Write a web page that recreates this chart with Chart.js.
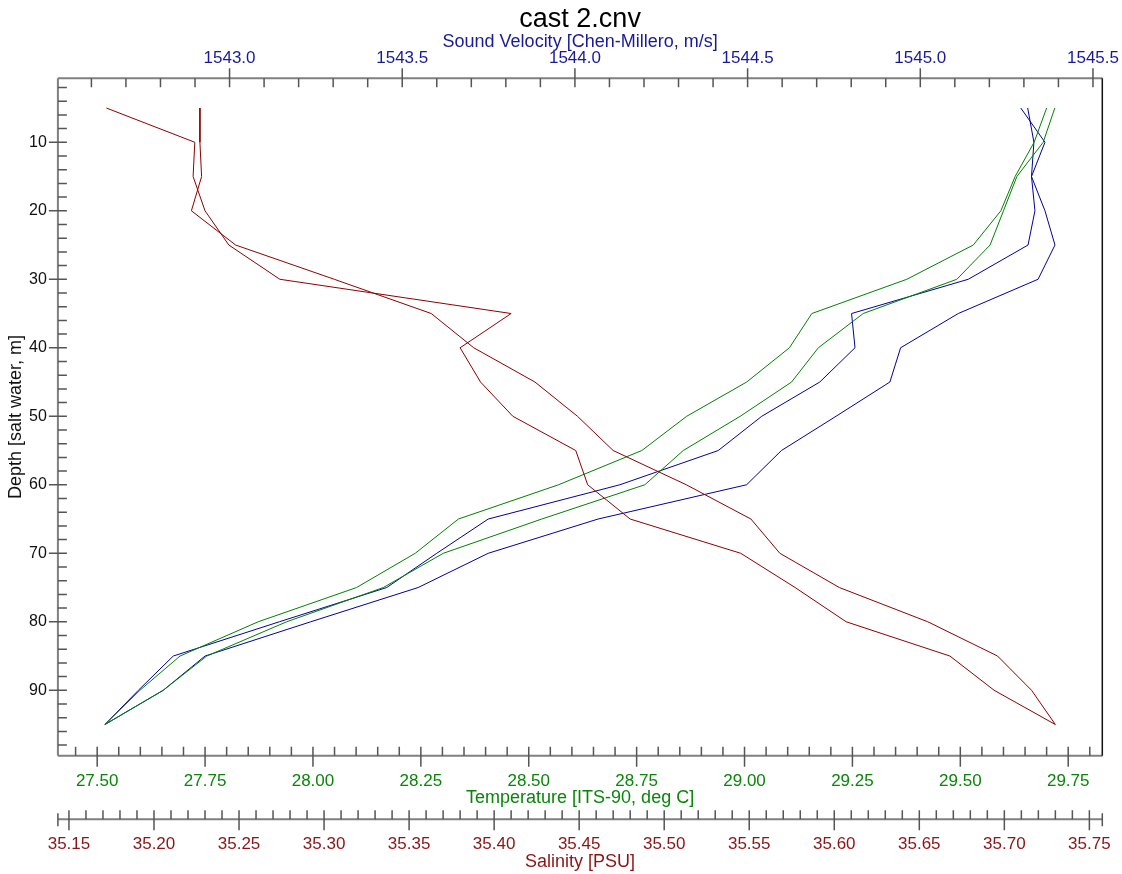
<!DOCTYPE html>
<html>
<head>
<meta charset="utf-8">
<title>cast 2.cnv</title>
<script src="https://cdn.jsdelivr.net/npm/chart.js@4.4.1/dist/chart.umd.min.js"></script>
<style>
  html, body { margin: 0; padding: 0; background: #fff; }
  canvas { display: block; }
</style>
</head>
<body>
<canvas id="chartCast" width="1122" height="874"></canvas>
<script>
// depth bins (m) and the two profiles of each variable
const depths = [5, 10, 15, 20, 25, 30, 35, 40, 45, 50, 55, 60, 65, 70, 75, 80, 85, 90, 95];

const salinityA = [35.172, 35.224, 35.223, 35.230, 35.244, 35.274, 35.410, 35.380, 35.392, 35.411,
                   35.448, 35.455, 35.480, 35.545, 35.577, 35.607, 35.668, 35.694, 35.730];
const salinityB = [35.227, 35.227, 35.228, 35.222, 35.248, 35.306, 35.363, 35.388, 35.424, 35.449,
                   35.470, 35.513, 35.551, 35.568, 35.603, 35.655, 35.696, 35.716, 35.730];

const temperatureA = [29.700, 29.671, 29.627, 29.594, 29.530, 29.376, 29.156, 29.104, 29.005, 28.866,
                      28.762, 28.569, 28.337, 28.237, 28.101, 27.873, 27.692, 27.599, 27.518];
const temperatureB = [29.719, 29.692, 29.631, 29.600, 29.569, 29.492, 29.275, 29.171, 29.109, 28.990,
                      28.858, 28.769, 28.530, 28.302, 28.163, 27.939, 27.754, 27.653, 27.518];

const soundVelA = [1545.311, 1545.329, 1545.322, 1545.332, 1545.312, 1545.139, 1544.801, 1544.811, 1544.709, 1544.541,
                   1544.415, 1544.130, 1543.749, 1543.600, 1543.455, 1543.144, 1542.837, 1542.736, 1542.639];
const soundVelB = [1545.291, 1545.361, 1545.322, 1545.361, 1545.390, 1545.341, 1545.110, 1544.943, 1544.912, 1544.756,
                   1544.598, 1544.497, 1544.067, 1543.749, 1543.546, 1543.235, 1542.929, 1542.808, 1542.639];

// tick labels
const svTicks = [1543.0, 1543.5, 1544.0, 1544.5, 1545.0, 1545.5];
const tempTicks = [27.50, 27.75, 28.00, 28.25, 28.50, 28.75, 29.00, 29.25, 29.50, 29.75];
const salTicks = [35.15, 35.20, 35.25, 35.30, 35.35, 35.40, 35.45, 35.50, 35.55, 35.60, 35.65, 35.70, 35.75];
const depthTicks = [10, 20, 30, 40, 50, 60, 70, 80, 90];

const FONT = 'Arial, "Liberation Sans", sans-serif';
const svColor = '#1a1a99';
const tempColor = '#0a850a';
const salColor = '#8b1414';

const profile = (vals) => vals.map((v, i) => ({ x: v, y: depths[i] }));

function lineSet(vals, axis, color) {
  return {
    data: profile(vals),
    xAxisID: axis,
    yAxisID: 'depth',
    showLine: true,
    borderColor: color,
    borderWidth: 1,
    pointRadius: 0,
    fill: false
  };
}

// minor + major tick marks, drawn on the library's scales
const axisDecor = {
  id: 'axisDecor',
  afterDraw(chart) {
    const { ctx, chartArea: a, scales } = chart;
    ctx.save();

    const tickMarks = (scale, step, horiz, pos, inLen, outLen, sign) => {
      const n0 = Math.ceil(scale.min / step - 1e-6);
      const n1 = Math.floor(scale.max / step + 1e-6);
      ctx.strokeStyle = '#555';
      ctx.lineWidth = 1.5;
      ctx.beginPath();
      for (let n = n0; n <= n1; n++) {
        const p = scale.getPixelForValue(n * step);
        const major = n % 5 === 0;
        const s = pos + sign * inLen;
        const e = major ? pos - sign * outLen : pos;
        if (horiz) { ctx.moveTo(p, s); ctx.lineTo(p, e); }
        else { ctx.moveTo(s, p); ctx.lineTo(e, p); }
      }
      ctx.stroke();
    };

    const sal = scales.sal;
    const salY = sal.top + 10.8;

    // axis lines
    ctx.strokeStyle = '#808080';
    ctx.lineWidth = 2;
    ctx.beginPath();
    ctx.moveTo(a.left, a.top); ctx.lineTo(a.right, a.top);
    ctx.moveTo(a.left, a.bottom); ctx.lineTo(a.right, a.bottom);
    ctx.moveTo(a.left, a.top); ctx.lineTo(a.left, a.bottom);
    ctx.moveTo(a.left, salY); ctx.lineTo(a.right, salY);
    ctx.stroke();

    // right frame
    ctx.strokeStyle = '#111';
    ctx.lineWidth = 1.5;
    ctx.beginPath();
    ctx.moveTo(a.right, a.top); ctx.lineTo(a.right, a.bottom);
    ctx.stroke();

    tickMarks(scales.sv, 0.1, true, a.top, 9, 10, 1);
    tickMarks(scales.temp, 0.05, true, a.bottom, 9, 11, -1);
    tickMarks(sal, 0.01, true, salY, 9, 11, -1);
    tickMarks(scales.depth, 2, false, a.left, 9, 9, 1);

    // end marks of the salinity axis
    ctx.strokeStyle = '#555';
    ctx.lineWidth = 1.5;
    ctx.beginPath();
    ctx.moveTo(a.left, salY - 6); ctx.lineTo(a.left, salY + 7);
    ctx.moveTo(a.right, salY - 6); ctx.lineTo(a.right, salY + 7);
    ctx.stroke();

    ctx.restore();
  }
};

const fixedTicks = (list) => (scale) => { scale.ticks = list.map(v => ({ value: v })); };
const sizeX = (h) => (s) => { s.height = h; s.paddingLeft = 0; s.paddingRight = 0; };
const noGrid = { display: false, drawTicks: false };

const ctxCast = document.getElementById('chartCast').getContext('2d');
const chartCast = new Chart(ctxCast, {
  type: 'scatter',
  data: {
    datasets: [
      lineSet(salinityA, 'sal', '#8b0000'),
      lineSet(salinityB, 'sal', '#8b0000'),
      lineSet(temperatureA, 'temp', '#008000'),
      lineSet(temperatureB, 'temp', '#008000'),
      lineSet(soundVelA, 'sv', '#000099'),
      lineSet(soundVelB, 'sv', '#000099')
    ]
  },
  options: {
    responsive: false,
    animation: false,
    events: [],
    layout: { padding: { left: 0, right: 19.7, top: 0, bottom: 1.5 } },
    plugins: {
      legend: { display: false },
      tooltip: { enabled: false },
      title: {
        display: true,
        text: 'cast 2.cnv',
        fullSize: false,
        color: '#000',
        font: { family: FONT, size: 27, weight: 'normal', lineHeight: 1.0 },
        padding: { top: 6.5, bottom: -0.8 }
      }
    },
    scales: {
      sv: {
        type: 'linear',
        position: 'top',
        min: 1542.503,
        max: 1545.527,
        afterBuildTicks: fixedTicks(svTicks),
        afterFit: sizeX(45.6),
        grid: noGrid,
        border: { display: false },
        ticks: {
          autoSkip: false, maxRotation: 0, padding: 9.8, color: svColor,
          font: { family: FONT, size: 17 },
          callback: (v) => Number(v).toFixed(1)
        },
        title: {
          display: true, text: 'Sound Velocity [Chen-Millero, m/s]', color: svColor,
          font: { family: FONT, size: 18, lineHeight: 1.0 }, padding: { top: 0, bottom: 0 }
        }
      },
      temp: {
        type: 'linear',
        position: 'bottom',
        weight: 0,
        min: 27.409,
        max: 29.829,
        afterBuildTicks: fixedTicks(tempTicks),
        afterFit: sizeX(52.8),
        grid: noGrid,
        border: { display: false },
        ticks: {
          autoSkip: false, maxRotation: 0, padding: 15.1, color: tempColor,
          font: { family: FONT, size: 17 },
          callback: (v) => Number(v).toFixed(2)
        },
        title: {
          display: true, text: 'Temperature [ITS-90, deg C]', color: tempColor,
          font: { family: FONT, size: 18 }, padding: { top: 0, bottom: 0 }
        }
      },
      sal: {
        type: 'linear',
        position: 'bottom',
        weight: 1,
        min: 35.1435,
        max: 35.7576,
        afterBuildTicks: fixedTicks(salTicks),
        afterFit: sizeX(64),
        grid: noGrid,
        border: { display: false },
        ticks: {
          autoSkip: false, maxRotation: 0, padding: 25.3, color: salColor,
          font: { family: FONT, size: 17 },
          callback: (v) => Number(v).toFixed(2)
        },
        title: {
          display: true, text: 'Salinity [PSU]', color: salColor,
          font: { family: FONT, size: 18 }, padding: { top: 0, bottom: 0 }
        }
      },
      depth: {
        type: 'linear',
        position: 'left',
        reverse: true,
        min: 0.66,
        max: 99.55,
        afterBuildTicks: fixedTicks(depthTicks),
        afterFit: (s) => { s.width = 57.9; s.paddingTop = 0; s.paddingBottom = 0; },
        grid: noGrid,
        border: { display: false },
        ticks: {
          autoSkip: false, padding: 11, color: '#111',
          font: { family: FONT, size: 16 }
        },
        title: {
          display: true, text: 'Depth [salt water, m]', color: '#111',
          font: { family: FONT, size: 18 }, padding: { top: 5.2, bottom: 0 }
        }
      }
    }
  },
  plugins: [axisDecor]
});
</script>
</body>
</html>
